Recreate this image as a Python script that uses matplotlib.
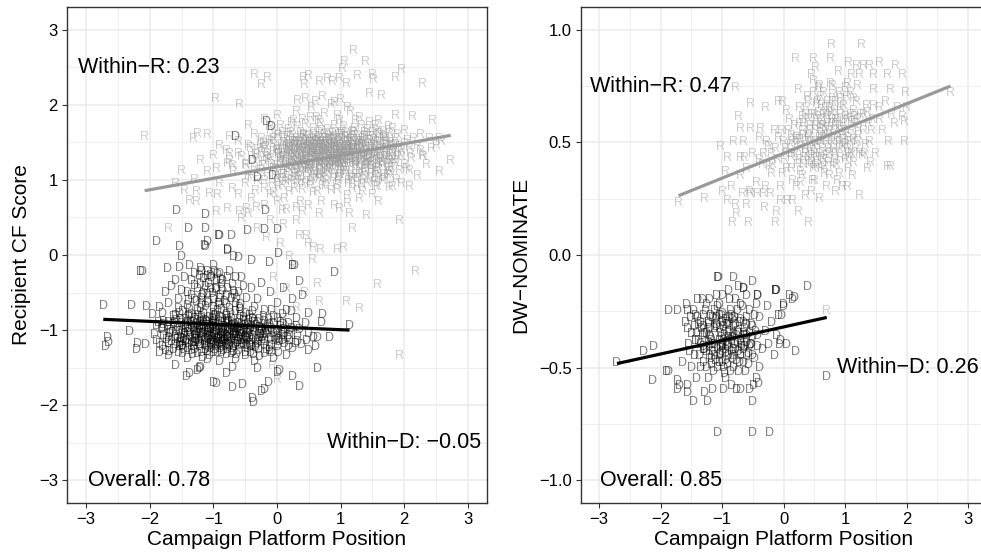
import numpy as np
import matplotlib
matplotlib.use("Agg")
import matplotlib.pyplot as plt
from matplotlib.ticker import MultipleLocator

plt.rcParams['font.family'] = ['Liberation Sans', 'DejaVu Sans']

# ---------------- data ----------------
# left panel: platform position vs recipient CF score
cf_r_pts = [
    (1.2, 2.72), (1.06, 2.57), (1.39, 2.57), (1.03, 2.48), (1.96, 2.46), (1.87, 2.35), (2.28, 2.27),
    (1.5, 2.4), (1.52, 2.33), (1.27, 2.38), (-0.35, 2.4), (-0.15, 2.35), (-0.25, 2.26), (0.42, 2.35),
    (0.5, 2.38), (0.43, 2.26), (0.67, 2.3), (0.79, 2.34), (0.87, 2.3), (0.98, 2.34), (1.09, 2.27),
    (-0.96, 2.07), (-0.59, 2.0), (0.33, 2.05), (0.45, 2.08), (0.6, 2.04), (0.72, 2.1), (0.9, 2.02),
    (1.0, 2.06), (1.45, 2.14), (1.65, 2.12), (1.87, 1.85), (2.13, 1.83), (2.44, 1.78), (-2.08, 1.57),
    (-1.32, 1.55), (-1.25, 1.61), (-1.1, 1.6), (-0.74, 1.57), (2.55, 1.55), (2.73, 1.25), (2.55, 1.1),
    (2.08, 0.9), (1.76, 0.89), (1.92, 0.45), (1.19, 0.35), (1.4, 0.52), (-1.0, 1.32), (-1.26, 0.84),
    (-1.37, 0.72), (-1.26, 0.7), (-1.71, 0.35), (-0.17, 0.22), (0.35, 0.25), (0.46, 0.25), (0.49, 0.15),
    (0.57, 0.09), (0.68, 0.06), (0.95, 0.06), (1.04, 0.09), (0.2, -0.02), (0.24, -0.15), (2.18, -0.23),
    (1.58, -0.4), (0.64, -0.38), (0.43, -0.5), (0.67, -0.63), (1.09, -0.63), (1.29, -0.72), (1.92, -1.34),
    (-0.07, -1.48), (0.0, -1.66), (0.56, -0.06),
    (-0.74, 1.34), (-0.78, 1.21), (-1.06, 0.81), (-0.93, 0.8), (-0.95, 0.57), (-0.78, 0.61), (-0.59, 0.57),
    (-0.48, 0.61), (-0.32, 0.63), (0.09, 0.58), (0.4, 0.57), (0.67, 0.54), (0.98, 0.61), (1.14, 0.54),
    (1.58, 0.91), (1.81, 0.9), (2.58, 1.5), (2.42, 1.41), (2.28, 1.32), (2.03, 1.14), (2.08, 1.12),
    (-0.9, 1.45), (-0.8, 1.38), (-0.75, 1.25), (-0.68, 1.1), (-0.6, 1.5), (-0.55, 1.3), (-0.5, 0.95),
    (-0.48, 1.18), (-0.42, 1.42), (-0.4, 1.05), (-0.35, 1.6), (-0.33, 0.85), (-0.3, 1.28), (-0.26, 1.12),
    (-0.22, 1.48), (-0.2, 0.98), (-0.15, 1.35), (-0.12, 1.7), (-0.1, 0.8), (-0.08, 1.2), (-0.05, 1.55),
    (-0.02, 1.05), (0.0, 1.4), (0.03, 0.9), (0.05, 1.28), (0.08, 1.62), (0.1, 1.15), (0.12, 0.75),
    (0.15, 1.45), (0.18, 1.0), (0.2, 1.32), (0.22, 1.75), (0.25, 1.2), (0.27, 0.88), (0.3, 1.5),
    (0.32, 1.08), (0.35, 1.38), (0.37, 0.7), (0.4, 1.25), (0.42, 1.6), (0.45, 0.95), (0.47, 1.42),
    (0.5, 1.15), (0.52, 1.82), (0.55, 1.3), (0.57, 0.82), (0.6, 1.5), (0.62, 1.05), (0.65, 1.38),
    (0.67, 1.2), (0.7, 1.65), (0.72, 0.92), (0.75, 1.45), (0.77, 1.28), (0.8, 1.1), (0.82, 1.55),
    (0.85, 0.85), (0.87, 1.35), (0.9, 1.72), (0.92, 1.18), (0.95, 1.48), (0.97, 0.98), (1.0, 1.3),
    (1.02, 1.6), (1.05, 1.12), (1.07, 1.42), (1.1, 0.78), (1.12, 1.25), (1.15, 1.55), (1.17, 1.02),
    (1.2, 1.38), (1.22, 1.68), (1.25, 1.2), (1.27, 0.9), (1.3, 1.48), (1.32, 1.3), (1.35, 1.08),
    (1.38, 1.58), (1.4, 1.25), (1.43, 0.95), (1.45, 1.4), (1.48, 1.18), (1.5, 1.62), (1.53, 1.32),
    (1.55, 1.05), (1.58, 1.5), (1.6, 1.22), (1.63, 1.4), (1.66, 0.98), (1.7, 1.55), (1.72, 1.3),
    (1.75, 1.15), (1.8, 1.45), (1.85, 1.25), (1.9, 1.6), (1.95, 1.38), (2.0, 1.2), (2.05, 1.52),
    (2.1, 1.35), (2.2, 1.45), (2.3, 1.3), (2.4, 1.55),
    (0.25, 1.4), (0.35, 1.22), (0.45, 1.52), (0.55, 1.42), (0.6, 1.28), (0.65, 1.55), (0.72, 1.35),
    (0.78, 1.5), (0.85, 1.25), (0.9, 1.42), (0.95, 1.32), (1.0, 1.45), (1.05, 1.35), (1.1, 1.5),
    (1.15, 1.3), (0.3, 1.3), (0.4, 1.4), (0.5, 1.35), (0.62, 1.45), (0.7, 1.25), (0.8, 1.38),
    (0.88, 1.55), (0.93, 1.22), (1.02, 1.4), (1.12, 1.45), (1.2, 1.5), (1.25, 1.35), (0.15, 1.3),
    (0.2, 1.5), (0.58, 1.6), (0.68, 1.12), (0.82, 1.15), (1.08, 1.22), (0.45, 1.3), (0.75, 1.4),
    (0.98, 1.55), (1.18, 1.45), (0.35, 1.5), (0.55, 1.2), (0.85, 1.45), (1.3, 1.4), (0.65, 1.3),
    (0.5, 1.45), (0.78, 1.3), (1.0, 1.2), (0.4, 1.15), (0.9, 1.35), (1.35, 1.5), (0.6, 1.38),
    (0.72, 1.5),
    (-0.6, 0.8), (-0.4, 0.75), (-0.2, 0.65), (0.0, 0.7), (0.15, 0.6), (0.3, 0.62), (0.5, 0.65),
    (0.7, 0.7), (0.9, 0.65), (1.1, 0.68), (1.3, 0.75), (1.5, 0.8), (1.6, 0.7), (-0.9, 0.95),
    (-1.1, 1.1), (-1.2, 1.25), (-0.95, 1.15), (-1.3, 1.0), (-1.5, 1.12), (-1.6, 0.95), (-1.45, 0.85),
    (-0.7, 0.88),
    (0.0, 1.85), (0.3, 1.9), (0.55, 1.95), (0.75, 1.88), (0.95, 1.85), (1.15, 1.9), (1.3, 1.82),
    (-0.2, 1.8), (1.6, 1.78), (0.4, 1.8), (0.65, 1.78), (1.45, 1.75), (0.85, 2.0), (1.1, 1.95),
    (-0.45, 1.72), (1.75, 1.7), (2.0, 1.65), (2.25, 1.6), (2.5, 1.45), (2.35, 1.2), (2.2, 1.05),
    (1.95, 0.95),
    (-0.1, 0.45), (0.1, 0.4), (-0.3, 0.35), (0.3, 0.45), (-0.45, 0.55), (-0.55, 0.48), (0.05, 0.15),
    (-0.05, -0.3), (0.15, -0.45), (0.1, -0.85), (0.3, -0.7), (0.25, -1.0),
]

# the dense Republican core of the left panel
cf_r_core = [
    (-0.1, 1.65), (0.05, 1.72), (0.18, 1.66), (0.32, 1.7), (0.44, 1.73), (0.58, 1.68), (0.68, 1.74),
    (0.8, 1.66), (0.92, 1.62), (1.05, 1.7), (1.18, 1.64), (1.32, 1.72), (1.42, 1.66), (1.55, 1.72),
    (1.68, 1.64), (1.82, 1.68), (0.26, 1.78), (0.62, 1.82), (0.98, 1.78), (1.24, 1.78),
    (-0.25, 1.55), (-0.12, 1.52), (0.02, 1.6), (0.12, 1.54), (0.24, 1.58), (0.38, 1.55), (0.5, 1.58),
    (0.63, 1.52), (0.74, 1.6), (0.86, 1.52), (0.96, 1.6), (1.08, 1.56), (1.22, 1.58), (1.34, 1.54),
    (1.46, 1.52), (1.6, 1.58), (1.72, 1.5), (1.86, 1.55), (2.0, 1.48), (2.15, 1.55),
    (-0.45, 1.45), (-0.3, 1.4), (-0.18, 1.44), (-0.05, 1.46), (0.08, 1.4), (0.18, 1.47), (0.28, 1.44),
    (0.42, 1.47), (0.52, 1.4), (0.66, 1.46), (0.76, 1.42), (0.88, 1.48), (0.98, 1.42), (1.1, 1.4),
    (1.2, 1.44), (1.33, 1.46), (1.44, 1.48), (1.56, 1.42), (1.68, 1.46), (1.78, 1.38), (1.92, 1.44),
    (2.08, 1.42), (2.25, 1.38),
    (-0.6, 1.35), (-0.4, 1.3), (-0.25, 1.36), (-0.1, 1.28), (0.02, 1.34), (0.12, 1.38), (0.22, 1.28),
    (0.32, 1.36), (0.44, 1.32), (0.56, 1.36), (0.66, 1.28), (0.74, 1.36), (0.84, 1.32), (0.94, 1.26),
    (1.04, 1.3), (1.14, 1.36), (1.24, 1.28), (1.36, 1.34), (1.46, 1.28), (1.58, 1.35), (1.7, 1.28),
    (1.82, 1.34), (1.95, 1.3), (2.12, 1.28),
    (-0.5, 1.2), (-0.35, 1.16), (-0.2, 1.24), (-0.06, 1.14), (0.06, 1.22), (0.16, 1.16), (0.28, 1.24),
    (0.38, 1.18), (0.48, 1.24), (0.6, 1.16), (0.72, 1.22), (0.84, 1.18), (0.96, 1.24), (1.06, 1.16),
    (1.18, 1.22), (1.3, 1.14), (1.42, 1.2), (1.54, 1.14), (1.66, 1.22), (1.8, 1.16), (1.92, 1.12),
    (-0.7, 1.18),
    (-0.45, 1.05), (-0.3, 0.98), (-0.15, 1.08), (0.0, 1.0), (0.1, 1.06), (0.22, 0.98), (0.34, 1.04),
    (0.46, 1.1), (0.56, 1.0), (0.66, 1.08), (0.78, 0.98), (0.9, 1.06), (1.0, 1.1), (1.12, 0.98),
    (1.24, 1.06), (1.36, 1.0), (1.48, 1.08), (1.6, 1.02), (1.74, 1.06), (1.88, 1.0),
    (-0.2, 0.88), (-0.05, 0.82), (0.08, 0.92), (0.2, 0.84), (0.4, 0.86), (0.52, 0.92), (0.64, 0.84),
    (0.76, 0.9), (0.95, 0.86), (1.18, 0.88), (1.35, 0.84), (1.55, 0.9),
    (0.03, 1.33), (0.13, 1.23), (0.23, 1.37), (0.27, 1.13), (0.33, 1.27), (0.37, 1.45), (0.43, 1.21),
    (0.47, 1.35), (0.53, 1.27), (0.57, 1.47), (0.63, 1.23), (0.67, 1.41), (0.73, 1.29), (0.77, 1.19),
    (0.83, 1.43), (0.87, 1.27), (0.93, 1.37), (0.97, 1.17), (1.03, 1.33), (1.07, 1.49), (1.13, 1.21),
    (1.17, 1.39), (1.23, 1.31), (1.27, 1.45), (1.33, 1.23), (1.37, 1.39), (1.43, 1.33), (1.47, 1.23),
    (1.53, 1.45), (1.57, 1.31), (1.63, 1.27), (1.67, 1.39), (1.73, 1.21), (1.77, 1.33), (1.83, 1.45),
    (1.87, 1.21),
    (0.07, 1.47), (0.17, 1.57), (0.27, 1.51), (0.37, 1.63), (0.47, 1.57), (0.57, 1.53), (0.67, 1.63),
    (0.77, 1.55), (0.87, 1.61), (0.97, 1.51), (1.07, 1.63), (1.17, 1.53), (1.27, 1.59), (1.37, 1.63),
    (1.47, 1.57), (1.57, 1.65), (1.67, 1.55), (1.77, 1.61),
    (-0.13, 1.27), (-0.23, 1.19), (-0.33, 1.33), (-0.03, 1.13), (0.07, 1.07), (0.17, 1.09),
    (0.27, 1.03), (0.37, 1.11), (0.47, 1.03), (0.57, 1.09), (0.67, 1.01), (0.77, 1.07), (0.87, 1.13),
    (0.97, 1.03), (1.07, 1.07), (1.17, 1.11), (1.27, 1.01), (1.37, 1.13), (1.47, 1.01), (1.57, 1.11),
    (1.67, 1.07), (1.77, 1.11),
    (0.33, 0.95), (0.53, 0.97), (0.73, 1.03), (0.93, 0.93), (1.13, 0.95), (1.33, 0.93), (1.53, 0.97),
    (0.13, 0.97), (-0.07, 0.95),
    (0.43, 1.41), (0.63, 1.33), (0.83, 1.37), (1.03, 1.25), (1.23, 1.41), (0.53, 1.17), (0.73, 1.47),
    (0.93, 1.29), (1.13, 1.43), (1.33, 1.35), (0.23, 1.29), (0.63, 1.37), (0.83, 1.21), (1.03, 1.53),
    (0.43, 1.49), (0.93, 1.45), (1.23, 1.19), (0.73, 1.15), (1.53, 1.37), (0.33, 1.19),
    (-0.19, 1.41), (-0.09, 1.51), (0.01, 1.19), (0.11, 1.31), (0.21, 1.43), (0.31, 1.17), (0.41, 1.29),
    (0.51, 1.51), (0.61, 1.19), (0.71, 1.41), (0.81, 1.29), (0.91, 1.53), (1.01, 1.19), (1.11, 1.31),
    (1.21, 1.47), (1.31, 1.21), (1.41, 1.39), (1.51, 1.29), (1.61, 1.49), (1.71, 1.41), (1.81, 1.27),
    (1.91, 1.37),
    (-0.01, 1.39), (0.09, 1.29), (0.19, 1.21), (0.29, 1.39), (0.39, 1.33), (0.49, 1.19), (0.59, 1.41),
    (0.69, 1.33), (0.79, 1.45), (0.89, 1.21), (0.99, 1.35), (1.09, 1.29), (1.19, 1.41), (1.29, 1.33),
    (1.39, 1.19), (1.49, 1.43), (1.59, 1.21), (1.69, 1.31), (1.79, 1.49), (1.89, 1.31),
    (0.01, 1.59), (0.21, 1.63), (0.41, 1.59), (0.61, 1.57), (0.81, 1.59), (1.01, 1.63), (1.21, 1.63),
    (1.41, 1.57), (1.61, 1.61), (0.11, 1.49), (0.31, 1.55), (0.51, 1.49), (0.71, 1.55), (0.91, 1.47),
    (1.11, 1.57), (1.31, 1.51), (1.51, 1.53), (1.71, 1.57),
    (0.09, 1.01), (0.29, 1.07), (0.49, 1.13), (0.69, 1.05), (0.89, 1.01), (1.09, 1.11), (1.29, 1.07),
    (1.49, 1.13), (1.69, 1.01), (0.19, 1.13), (0.39, 0.99), (0.59, 1.07), (0.79, 1.13), (0.99, 1.07),
    (1.19, 1.01), (1.39, 1.09), (1.59, 1.15), (1.79, 1.05),
    (0.39, 1.37), (0.59, 1.31), (0.79, 1.23), (0.99, 1.39), (1.19, 1.27), (0.49, 1.43), (0.69, 1.19),
    (0.89, 1.39), (1.09, 1.45), (1.29, 1.27), (0.29, 1.47), (0.99, 1.23), (0.69, 1.49), (1.39, 1.45),
    (0.19, 1.39), (0.89, 1.31),
    (0.16, 1.35), (0.26, 1.25), (0.36, 1.41), (0.46, 1.27), (0.56, 1.39), (0.66, 1.21), (0.76, 1.33),
    (0.86, 1.41), (0.96, 1.27), (1.06, 1.43), (1.16, 1.25), (1.26, 1.39), (1.36, 1.29), (1.46, 1.35),
    (1.56, 1.25),
    (0.14, 1.19), (0.24, 1.51), (0.34, 1.33), (0.44, 1.15), (0.54, 1.49), (0.64, 1.41), (0.74, 1.23),
    (0.84, 1.53), (0.94, 1.39), (1.04, 1.21), (1.14, 1.51), (1.24, 1.23), (1.34, 1.43), (1.44, 1.21),
    (1.54, 1.51),
    (0.18, 1.43), (0.28, 1.33), (0.38, 1.25), (0.48, 1.45), (0.58, 1.35), (0.68, 1.47), (0.78, 1.37),
    (0.88, 1.29), (0.98, 1.47), (1.08, 1.37), (1.18, 1.33), (1.28, 1.51), (1.38, 1.31), (1.48, 1.45),
    (0.22, 1.17), (0.42, 1.23), (0.62, 1.29), (0.82, 1.27), (1.02, 1.37), (1.22, 1.35), (1.42, 1.27),
    (0.32, 1.45), (0.52, 1.33), (0.72, 1.39), (0.92, 1.23), (1.12, 1.39), (1.32, 1.47), (0.62, 1.51),
    (0.82, 1.47), (1.02, 1.29),
    (1.62, 1.35), (1.72, 1.45), (1.82, 1.39), (1.66, 1.19), (1.76, 1.25), (1.86, 1.47), (-0.06, 1.37),
    (-0.16, 1.31), (0.06, 1.25), (-0.26, 1.47),
]

cf_d_pts = [
    (-0.17, 1.77), (-0.09, 1.7), (-0.65, 1.57), (-0.38, 1.25), (-0.3, 1.02), (-0.07, 1.05), (-0.18, 0.59),
    (-1.58, 0.59), (-1.12, 0.53), (-1.39, 0.35), (-1.12, 0.35), (-0.92, 0.25), (-0.71, 0.25),
    (-0.46, 0.32), (-0.2, 0.33), (0.0, 0.33), (-1.89, 0.17), (-1.09, 0.17), (-1.12, 0.11), (-1.54, 0.1),
    (-1.5, -0.02), (-0.77, 0.05), (0.02, 0.01), (-2.12, -0.23), (-2.73, -0.68), (-2.28, -0.68),
    (-2.05, -0.69), (-2.67, -1.1), (-2.65, -1.17), (-2.69, -1.23), (-2.31, -1.02), (-2.19, -1.19),
    (-2.06, -1.2), (-2.2, -1.27), (0.72, -0.8), (0.7, -0.9), (0.82, -1.11), (0.64, -1.11), (0.9, -0.24),
    (0.64, -1.52), (0.24, -1.62), (0.35, -1.76), (0.04, -1.55), (0.0, -1.57), (-0.2, -1.79),
    (-0.24, -1.82), (-0.14, -1.7), (-0.38, -1.92), (-0.37, -1.97), (-0.54, -1.73), (-0.7, -1.77),
    (-0.95, -1.71), (-1.0, -1.7), (-0.79, -1.59), (-1.37, -1.59), (-1.21, -1.52), (-1.42, -1.62),
    (-1.25, -1.55), (1.14, -0.95), (0.27, -0.15), (0.35, -0.36),
    (-1.14, 0.12), (-0.9, 0.25), (-0.78, 0.06), (-0.68, -0.03), (-0.6, -0.04), (-0.4, -0.08),
    (-0.12, -0.11), (0.25, -0.15), (-1.72, -0.18), (-1.54, -0.17), (-1.37, -0.15), (-2.15, -0.23),
    (-1.6, -0.35), (-1.45, -0.3), (-1.3, -0.25), (-1.2, -0.4), (-1.05, -0.28), (-0.95, -0.45),
    (-0.85, -0.35), (-0.7, -0.4), (-0.55, -0.3), (-0.4, -0.45), (-0.25, -0.38), (-0.1, -0.5),
    (0.1, -0.45), (0.25, -0.6), (-1.75, -0.5), (-1.5, -0.48), (-1.35, -0.55), (-1.15, -0.52),
    (-0.8, -0.55), (-0.6, -0.5), (-0.3, -0.6), (0.0, -0.65), (0.4, -0.55),
    (-1.85, -0.7), (-1.7, -0.65), (-1.55, -0.72), (-1.4, -0.68), (-1.25, -0.75), (-1.1, -0.62),
    (-1.0, -0.78), (-0.9, -0.68), (-0.75, -0.72), (-0.65, -0.65), (-0.5, -0.78), (-0.35, -0.7),
    (-0.2, -0.75), (-0.05, -0.82), (0.15, -0.75), (0.3, -0.85), (0.5, -0.78), (-1.95, -0.8),
    (-1.3, -0.85), (-0.85, -0.85), (-0.45, -0.88), (0.05, -0.9),
    (-1.9, -0.95), (-1.8, -1.0), (-1.7, -0.9), (-1.6, -1.02), (-1.5, -0.92), (-1.45, -1.05),
    (-1.35, -0.95), (-1.25, -1.0), (-1.2, -0.9), (-1.15, -1.05), (-1.1, -0.95), (-1.05, -1.0),
    (-1.0, -0.9), (-0.95, -1.02), (-0.9, -0.95), (-0.85, -1.05), (-0.8, -0.92), (-0.75, -1.0),
    (-0.7, -0.95), (-0.65, -1.05), (-0.6, -0.92), (-0.55, -1.0), (-0.5, -0.95), (-0.45, -1.05),
    (-0.35, -0.98), (-0.25, -1.02), (-0.15, -0.95), (-0.05, -1.05), (0.1, -1.0), (0.2, -1.08),
    (0.35, -1.0), (0.5, -1.05),
    (-1.9, -1.15), (-1.8, -1.22), (-1.7, -1.1), (-1.6, -1.2), (-1.5, -1.12), (-1.4, -1.25),
    (-1.35, -1.15), (-1.28, -1.08), (-1.2, -1.2), (-1.12, -1.12), (-1.05, -1.25), (-1.0, -1.15),
    (-0.92, -1.1), (-0.88, -1.22), (-0.82, -1.15), (-0.75, -1.1), (-0.7, -1.25), (-0.62, -1.15),
    (-0.55, -1.2), (-0.48, -1.12), (-0.4, -1.22), (-0.3, -1.15), (-0.2, -1.2), (-0.1, -1.12),
    (0.0, -1.22), (0.12, -1.18), (0.25, -1.25), (0.38, -1.2), (0.5, -1.28), (0.6, -1.22),
    (-1.85, -1.3), (-1.7, -1.35), (-1.55, -1.3), (-1.4, -1.38), (-1.25, -1.32), (-1.1, -1.4),
    (-1.0, -1.3), (-0.9, -1.42), (-0.8, -1.33), (-0.65, -1.4), (-0.5, -1.35), (-0.35, -1.42),
    (-0.2, -1.32), (-0.05, -1.38), (0.15, -1.35), (-1.6, -1.48), (-1.2, -1.5), (-0.7, -1.5),
    (-0.3, -1.52),
    (-1.1, -1.08), (-0.95, -1.12), (-0.85, -0.98), (-1.2, -1.05), (-0.78, -1.08), (-1.02, -0.85),
    (-0.68, -1.02), (-1.3, -1.12), (-0.9, -0.82), (-1.15, -0.78), (-0.6, -1.1), (-1.4, -0.98),
    (-0.72, -0.85), (-1.05, -1.18), (-0.88, -1.3), (-1.25, -0.88), (-0.5, -1.1), (-1.0, -1.05),
    (-0.8, -1.2), (-1.15, -0.95),
    (-1.2, -0.18), (-1.1, -0.22), (-1.0, -0.15), (-0.9, -0.25), (-1.15, -0.32), (-0.95, -0.35),
    (-1.05, -0.45), (-0.85, -0.48), (-1.25, -0.45), (-0.75, -0.22), (-0.65, -0.3), (-1.3, -0.6),
    (-1.0, -0.6), (-0.9, -0.58),
]

# the dense Democratic core of the left panel
cf_d_core = [
    (-1.8, -0.78), (-1.62, -0.82), (-1.48, -0.76), (-1.34, -0.8), (-1.2, -0.72), (-1.06, -0.84),
    (-0.94, -0.74), (-0.8, -0.8), (-0.66, -0.76), (-0.52, -0.84), (-0.38, -0.76), (-0.22, -0.82),
    (-0.08, -0.74), (0.08, -0.8), (0.22, -0.76),
    (-1.86, -0.9), (-1.72, -0.96), (-1.58, -0.88), (-1.44, -0.94), (-1.32, -0.9), (-1.22, -0.96),
    (-1.12, -0.88), (-1.02, -0.96), (-0.92, -0.88), (-0.82, -0.96), (-0.72, -0.9), (-0.62, -0.98),
    (-0.52, -0.88), (-0.42, -0.94), (-0.3, -0.9), (-0.18, -0.98), (-0.06, -0.92), (0.06, -0.96),
    (0.18, -0.92), (0.3, -0.96), (0.44, -0.92),
    (-1.92, -1.06), (-1.78, -1.08), (-1.64, -1.04), (-1.52, -1.1), (-1.4, -1.04), (-1.3, -1.02),
    (-1.18, -1.1), (-1.08, -1.02), (-0.98, -1.08), (-0.88, -1.02), (-0.78, -1.1), (-0.68, -1.06),
    (-0.58, -1.04), (-0.48, -1.0), (-0.38, -1.08), (-0.28, -1.1), (-0.16, -1.06), (-0.04, -1.1),
    (0.08, -1.08), (0.2, -1.14), (0.32, -1.08), (0.46, -1.14), (0.58, -1.1),
    (-1.84, -1.18), (-1.66, -1.16), (-1.54, -1.22), (-1.44, -1.16), (-1.32, -1.22), (-1.24, -1.14),
    (-1.14, -1.2), (-1.04, -1.14), (-0.94, -1.2), (-0.86, -1.14), (-0.76, -1.2), (-0.66, -1.2),
    (-0.58, -1.14), (-0.44, -1.18), (-0.34, -1.24), (-0.24, -1.16), (-0.12, -1.24), (0.04, -1.16),
    (0.18, -1.22), (0.32, -1.16),
    (-1.76, -1.28), (-1.62, -1.26), (-1.48, -1.32), (-1.34, -1.28), (-1.18, -1.3), (-1.06, -1.34),
    (-0.96, -1.26), (-0.84, -1.28), (-0.72, -1.32), (-0.6, -1.28), (-0.42, -1.3), (-0.28, -1.36),
    (-0.12, -1.28), (0.02, -1.3),
    (-1.35, -0.35), (-1.22, -0.28), (-1.08, -0.38), (-0.98, -0.22), (-0.88, -0.4), (-0.78, -0.3),
    (-1.4, -0.5), (-1.18, -0.58), (-1.02, -0.52), (-0.92, -0.65), (-0.72, -0.58), (-0.58, -0.66),
    (-0.48, -0.58), (-1.55, -0.6), (-1.65, -0.42),
    (-1.63, -0.93), (-1.53, -1.03), (-1.43, -0.87), (-1.37, -1.09), (-1.27, -0.93), (-1.23, -1.17),
    (-1.17, -0.99), (-1.13, -1.27), (-1.07, -0.91), (-1.03, -1.09), (-0.97, -0.97), (-0.93, -1.17),
    (-0.87, -0.91), (-0.83, -1.07), (-0.77, -0.97), (-0.73, -1.17), (-0.67, -0.93), (-0.63, -1.09),
    (-0.57, -0.97), (-0.53, -1.19), (-0.47, -0.93), (-0.43, -1.11), (-0.37, -1.01), (-0.33, -1.21),
    (-0.27, -0.97), (-0.23, -1.11), (-0.13, -1.01), (-0.03, -1.15), (0.07, -1.03), (0.17, -1.11),
    (-1.57, -1.13), (-1.47, -1.27), (-1.33, -1.33), (-1.17, -1.37), (-1.03, -1.21), (-0.93, -1.31),
    (-0.77, -1.27), (-0.63, -1.33), (-0.47, -1.25), (-0.37, -1.33), (-0.17, -1.27),
    (-1.53, -0.79), (-1.37, -0.73), (-1.23, -0.81), (-1.13, -0.69), (-0.97, -0.81), (-0.87, -0.73),
    (-0.73, -0.79), (-0.57, -0.73), (-0.43, -0.81), (-0.27, -0.87), (-0.13, -0.87),
    (-1.17, -0.55), (-1.07, -0.65), (-0.97, -0.47), (-0.83, -0.63), (-0.67, -0.53), (-0.53, -0.43),
    (-1.27, -0.63), (-0.77, -0.45), (-1.13, -0.43), (-0.93, -0.27), (-1.03, -0.31), (-0.63, -0.59),
    (-1.07, -1.13), (-0.97, -1.05), (-0.87, -1.19), (-0.77, -1.03), (-0.67, -1.13), (-1.17, -1.07),
    (-0.57, -1.07), (-1.27, -1.05), (-0.87, -0.99), (-0.97, -1.23), (-0.77, -1.15), (-1.07, -0.97),
    (-0.67, -0.99), (-1.37, -1.01), (-0.47, -1.05), (-1.47, -1.13),
    (-1.81, -0.99), (-1.71, -1.19), (-1.61, -0.91), (-1.51, -1.19), (-1.41, -0.91), (-1.31, -1.17),
    (-1.21, -0.99), (-1.11, -1.21), (-1.01, -0.93), (-0.91, -1.19), (-0.81, -1.01), (-0.71, -1.13),
    (-0.61, -0.99), (-0.51, -1.13), (-0.41, -0.99), (-0.31, -1.19), (-0.21, -1.07), (-0.11, -0.93),
    (-0.01, -1.01), (0.09, -1.15), (0.19, -1.01), (0.29, -1.19),
    (-1.79, -0.89), (-1.69, -1.05), (-1.59, -1.11), (-1.49, -1.01), (-1.39, -1.19), (-1.29, -0.99),
    (-1.19, -1.13), (-1.09, -1.05), (-0.99, -1.19), (-0.89, -1.07), (-0.79, -0.89), (-0.69, -1.09),
    (-0.59, -1.21), (-0.49, -1.09), (-0.39, -1.15), (-0.29, -1.03), (-0.19, -1.13), (-0.09, -1.21),
    (0.01, -1.09), (0.11, -0.93),
    (-1.69, -1.29), (-1.49, -1.23), (-1.29, -1.27), (-1.09, -1.29), (-0.89, -1.25), (-0.69, -1.29),
    (-0.49, -1.31), (-0.29, -1.27), (-0.09, -1.31),
    (-1.59, -0.81), (-1.39, -0.83), (-1.19, -0.85), (-0.99, -0.87), (-0.79, -0.83), (-0.59, -0.87),
    (-0.39, -0.85), (-0.19, -0.89), (0.01, -0.85),
    (-1.19, -0.67), (-0.99, -0.71), (-0.79, -0.67), (-0.59, -0.71), (-1.39, -0.61), (-1.09, -0.53),
    (-0.89, -0.55), (-0.69, -0.49), (-1.29, -0.41), (-1.09, -0.29), (-0.89, -0.33), (-1.19, -0.23),
    (-1.09, -1.01), (-0.99, -0.99), (-0.89, -1.13), (-0.79, -1.09), (-1.19, -0.95), (-0.69, -0.97),
    (-1.29, -1.09), (-0.59, -1.03), (-1.01, -1.11), (-0.81, -1.21), (-1.11, -0.89), (-0.71, -1.01),
    (-1.56, -0.97), (-1.46, -1.07), (-1.36, -0.89), (-1.26, -1.13), (-1.16, -0.91), (-1.06, -1.09),
    (-0.96, -0.93), (-0.86, -1.11), (-0.76, -0.91), (-0.66, -1.07), (-0.56, -0.93), (-0.46, -1.13),
    (-0.36, -0.91), (-0.26, -1.07),
    (-1.54, -1.17), (-1.44, -0.99), (-1.34, -1.21), (-1.24, -1.03), (-1.14, -1.15), (-1.04, -0.99),
    (-0.94, -1.13), (-0.84, -1.03), (-0.74, -1.21), (-0.64, -1.03), (-0.54, -1.15), (-0.44, -1.01),
    (-0.34, -1.13), (-0.24, -0.99),
    (-1.52, -0.87), (-1.42, -1.13), (-1.32, -0.97), (-1.22, -1.23), (-1.12, -1.01), (-1.02, -1.17),
    (-0.92, -1.01), (-0.82, -1.13), (-0.72, -0.95), (-0.62, -1.17), (-0.52, -1.01), (-0.42, -1.21),
    (-0.32, -0.95),
    (-1.48, -1.21), (-1.28, -1.17), (-1.08, -1.23), (-0.88, -1.17), (-0.68, -1.23), (-0.48, -1.21),
    (-1.38, -0.81), (-1.18, -0.83), (-0.98, -0.83), (-0.78, -0.87), (-0.58, -0.81), (-0.38, -0.87),
    (-1.68, -1.01), (-1.74, -1.13), (-1.78, -0.93), (-0.18, -1.05), (-0.08, -0.99), (0.02, -1.13),
    (0.12, -1.05), (0.22, -0.99),
]

# right panel: platform position vs DW-NOMINATE
dw_r_pts = [
    (0.77, 0.93), (1.26, 0.93), (0.19, 0.87), (0.48, 0.87), (0.76, 0.87), (1.05, 0.85), (1.19, 0.84),
    (1.3, 0.84), (1.4, 0.84), (1.55, 0.85), (1.81, 0.84), (0.51, 0.83), (0.46, 0.8), (0.89, 0.81),
    (1.11, 0.8), (1.24, 0.8), (1.46, 0.8), (1.68, 0.8), (1.93, 0.8), (-0.79, 0.74), (2.71, 0.72),
    (-0.54, 0.67), (-0.3, 0.65), (-0.74, 0.61), (-1.03, 0.48), (-0.92, 0.43), (-0.71, 0.43),
    (-0.63, 0.43), (-1.71, 0.23), (-1.28, 0.25), (-0.92, 0.24), (-0.79, 0.22), (-0.76, 0.18),
    (-0.84, 0.14), (-0.58, 0.14), (-0.61, 0.22), (-0.32, 0.21), (-0.11, 0.19), (-0.14, 0.14),
    (0.24, 0.19), (0.4, 0.14), (1.68, 0.39), (1.73, 0.39), (1.37, 0.38), (1.41, 0.41), (1.97, 0.5),
    (1.97, 0.59), (1.93, 0.61), (2.0, 0.65), (0.7, -0.25),
    (0.24, 0.73), (0.48, 0.72), (0.64, 0.72), (0.8, 0.71), (1.08, 0.72), (1.46, 0.73), (1.73, 0.73),
    (1.98, 0.72), (0.48, 0.77), (0.59, 0.75), (0.8, 0.75), (1.04, 0.76), (1.2, 0.75), (-0.09, 0.68),
    (-0.02, 0.68), (0.05, 0.64), (-0.71, 0.56), (-0.54, 0.56), (-0.38, 0.56), (-0.82, 0.5),
    (-0.66, 0.5), (-0.67, 0.27), (-0.54, 0.27), (-0.43, 0.27), (-0.33, 0.27), (-0.22, 0.27),
    (-0.06, 0.24), (0.06, 0.24), (0.15, 0.24), (0.35, 0.26), (0.59, 0.25), (0.84, 0.28), (1.03, 0.3),
    (1.23, 0.26), (1.13, 0.41),
    (-0.6, 0.38), (-0.5, 0.45), (-0.45, 0.32), (-0.4, 0.52), (-0.35, 0.4), (-0.3, 0.3), (-0.25, 0.48),
    (-0.2, 0.36), (-0.15, 0.55), (-0.1, 0.42), (-0.05, 0.3), (0.0, 0.5), (0.05, 0.38), (0.1, 0.6),
    (0.12, 0.45), (0.15, 0.33), (0.2, 0.52), (0.22, 0.4), (0.25, 0.65), (0.28, 0.48), (0.3, 0.35),
    (0.33, 0.58), (0.35, 0.45), (0.38, 0.7), (0.4, 0.52), (0.42, 0.4), (0.45, 0.62), (0.48, 0.48),
    (0.5, 0.33), (0.52, 0.55), (0.55, 0.68), (0.58, 0.45), (0.6, 0.6), (0.62, 0.38), (0.65, 0.52),
    (0.68, 0.65), (0.7, 0.44), (0.72, 0.58), (0.75, 0.35), (0.78, 0.5), (0.8, 0.68), (0.82, 0.42),
    (0.85, 0.6), (0.88, 0.52), (0.9, 0.36), (0.92, 0.65), (0.95, 0.48), (0.98, 0.58), (1.0, 0.42),
    (1.02, 0.7), (1.05, 0.52), (1.08, 0.62), (1.1, 0.45), (1.12, 0.35), (1.15, 0.58), (1.18, 0.68),
    (1.2, 0.5), (1.25, 0.62), (1.28, 0.44), (1.3, 0.55), (1.35, 0.66), (1.4, 0.5), (1.45, 0.6),
    (1.5, 0.45), (1.55, 0.65), (1.6, 0.55), (1.65, 0.68), (1.7, 0.5), (1.75, 0.62), (1.8, 0.58),
    (1.85, 0.65), (-0.7, 0.35), (-0.55, 0.28), (-0.85, 0.3), (-1.0, 0.28), (-0.95, 0.37), (0.2, 0.3),
    (0.45, 0.28), (0.7, 0.3), (0.95, 0.3), (0.3, 0.55), (0.5, 0.45), (0.6, 0.5), (0.4, 0.6),
    (0.55, 0.4), (0.75, 0.55), (0.85, 0.45), (0.35, 0.5), (0.65, 0.42), (0.15, 0.5), (1.0, 0.55),
    (0.8, 0.6), (0.5, 0.62), (0.25, 0.42), (0.9, 0.5), (0.7, 0.5), (1.2, 0.6), (1.1, 0.55),
    (0.05, 0.45), (-0.2, 0.45), (0.6, 0.7), (0.9, 0.72), (0.4, 0.68),
    (-0.4, 0.42), (-0.28, 0.5), (-0.18, 0.4), (-0.08, 0.52), (0.02, 0.42), (0.08, 0.55), (0.18, 0.45),
    (0.26, 0.58), (0.32, 0.4), (0.42, 0.55), (0.46, 0.44), (0.54, 0.6), (0.58, 0.52), (0.64, 0.62),
    (0.68, 0.55), (0.74, 0.65), (0.78, 0.58), (0.84, 0.68), (0.88, 0.6), (0.94, 0.55), (0.98, 0.66),
    (1.04, 0.6), (1.08, 0.5), (1.14, 0.64), (1.22, 0.56), (1.3, 0.62), (1.38, 0.58), (1.46, 0.66),
    (1.55, 0.6), (0.62, 0.66), (0.72, 0.68), (0.82, 0.64), (0.52, 0.5), (0.36, 0.62), (0.12, 0.38),
    (-0.02, 0.36), (0.28, 0.32), (0.48, 0.38), (0.66, 0.36), (0.86, 0.4), (1.06, 0.38), (0.56, 0.74),
    (0.76, 0.76), (1.0, 0.74), (0.7, 0.62), (0.92, 0.62), (0.44, 0.5), (0.6, 0.56),
    (0.03, 0.47), (0.13, 0.53), (0.23, 0.47), (0.33, 0.43), (0.43, 0.57), (0.53, 0.43), (0.63, 0.47),
    (0.73, 0.41), (0.83, 0.55), (0.93, 0.43), (1.03, 0.47), (1.13, 0.51), (1.23, 0.45), (1.33, 0.49),
    (1.43, 0.55), (0.17, 0.57), (0.37, 0.65), (0.57, 0.63), (0.77, 0.63), (0.97, 0.51), (1.17, 0.47),
    (1.37, 0.63), (0.27, 0.37), (0.47, 0.33), (0.67, 0.39), (0.87, 0.33), (1.07, 0.43), (-0.13, 0.47),
    (-0.23, 0.39), (-0.33, 0.45), (0.63, 0.57), (0.83, 0.51), (0.53, 0.67), (0.73, 0.47), (0.43, 0.47),
    (0.93, 0.69), (1.13, 0.69), (0.33, 0.53), (0.13, 0.43), (-0.03, 0.55),
    (0.21, 0.51), (0.41, 0.43), (0.61, 0.53), (0.81, 0.47), (1.01, 0.61), (1.21, 0.53), (0.31, 0.61),
    (0.51, 0.57), (0.71, 0.61), (0.91, 0.57), (1.11, 0.59), (1.31, 0.45), (0.11, 0.49), (0.61, 0.43),
    (0.81, 0.39), (0.41, 0.53), (0.71, 0.53), (1.01, 0.49), (0.51, 0.39), (0.91, 0.47),
    (0.35, 0.47), (0.55, 0.49), (0.75, 0.45), (0.95, 0.53), (0.45, 0.41), (0.65, 0.57), (0.85, 0.57),
    (1.05, 0.45), (0.25, 0.51), (1.15, 0.61),
]

dw_d_pts = [
    (-1.08, -0.1), (-1.06, -0.1), (-0.82, -0.1), (0.38, -0.14), (-0.5, -0.12), (-0.65, -0.15),
    (-0.43, -0.18), (-0.14, -0.16), (-0.11, -0.16), (-1.88, -0.25), (-1.73, -0.25), (-1.57, -0.25),
    (-1.47, -0.25), (-0.09, -0.27), (-0.03, -0.27), (0.19, -0.43), (-0.07, -0.4), (-0.12, -0.36),
    (-0.25, -0.4), (-2.28, -0.43), (-2.12, -0.41), (-2.71, -0.48), (-2.13, -0.56), (0.7, -0.54),
    (-1.9, -0.52), (-1.88, -0.52), (-1.72, -0.56), (-1.7, -0.58), (-1.57, -0.58), (-1.72, -0.6),
    (-1.57, -0.61), (-1.47, -0.65), (-1.24, -0.65), (-0.51, -0.65), (-1.08, -0.79), (-0.51, -0.79),
    (-0.23, -0.79), (-1.28, -0.61), (-0.98, -0.6), (-0.76, -0.6), (-0.7, -0.6), (-0.55, -0.6),
    (-0.49, -0.58), (-0.41, -0.57), (-0.45, -0.55), (-0.4, -0.5), (0.14, -0.2), (0.18, -0.19),
    (-0.27, -0.23), (-0.01, -0.23), (-0.14, -0.16), (-0.66, -0.15), (-0.43, -0.18),
    (-1.6, -0.3), (-1.55, -0.4), (-1.5, -0.35), (-1.45, -0.45), (-1.4, -0.28), (-1.38, -0.38),
    (-1.35, -0.5), (-1.3, -0.32), (-1.28, -0.42), (-1.25, -0.22), (-1.22, -0.55), (-1.2, -0.36),
    (-1.18, -0.46), (-1.15, -0.28), (-1.12, -0.4), (-1.1, -0.18), (-1.08, -0.5), (-1.05, -0.33),
    (-1.02, -0.44), (-1.0, -0.26), (-0.98, -0.38), (-0.95, -0.55), (-0.92, -0.3), (-0.9, -0.45),
    (-0.88, -0.2), (-0.85, -0.38), (-0.82, -0.5), (-0.8, -0.28), (-0.78, -0.42), (-0.75, -0.34),
    (-0.72, -0.48), (-0.7, -0.22), (-0.68, -0.4), (-0.65, -0.3), (-0.62, -0.52), (-0.6, -0.36),
    (-0.58, -0.44), (-0.55, -0.25), (-0.52, -0.4), (-0.5, -0.32), (-0.48, -0.46), (-0.45, -0.22),
    (-0.42, -0.36), (-0.4, -0.28), (-0.35, -0.42), (-0.3, -0.34), (-1.65, -0.48), (-1.58, -0.22),
    (-1.42, -0.55), (-1.32, -0.2), (-1.15, -0.6), (-1.05, -0.22), (-0.95, -0.42), (-0.85, -0.58),
    (-0.78, -0.2), (-1.25, -0.35), (-1.1, -0.32), (-1.0, -0.4), (-0.9, -0.35), (-0.8, -0.4),
    (-1.2, -0.45), (-1.05, -0.48), (-0.7, -0.38), (-1.3, -0.48), (-0.6, -0.45), (-1.45, -0.32),
    (-1.0, -0.3), (-0.88, -0.28), (-1.12, -0.25), (-0.98, -0.5), (-0.65, -0.48), (-1.35, -0.4),
    (-0.55, -0.35), (-0.75, -0.25), (-1.18, -0.38), (-0.92, -0.4), (-0.82, -0.32), (0.0, -0.22),
    (0.1, -0.18), (-0.2, -0.3), (-0.15, -0.45), (-0.05, -0.38), (0.05, -0.4),
    (-1.52, -0.28), (-1.44, -0.38), (-1.36, -0.3), (-1.3, -0.42), (-1.22, -0.3), (-1.16, -0.4),
    (-1.1, -0.28), (-1.04, -0.38), (-0.98, -0.32), (-0.94, -0.44), (-0.88, -0.34), (-0.84, -0.46),
    (-0.76, -0.36), (-0.72, -0.3), (-0.66, -0.42), (-0.6, -0.28), (-0.54, -0.4), (-0.46, -0.34),
    (-1.26, -0.5), (-1.14, -0.52), (-1.0, -0.48), (-0.86, -0.52), (-0.74, -0.52), (-1.4, -0.2),
    (-1.2, -0.2), (-1.0, -0.18), (-0.9, -0.16), (-0.74, -0.14), (-0.6, -0.18), (-1.08, -0.42),
    (-0.96, -0.36), (-0.82, -0.42), (-1.32, -0.36), (-0.64, -0.36), (-0.5, -0.45), (-1.5, -0.5),
    (-1.43, -0.27), (-1.33, -0.33), (-1.23, -0.39), (-1.13, -0.33), (-1.03, -0.41), (-0.93, -0.31),
    (-0.83, -0.37), (-0.73, -0.43), (-0.63, -0.33), (-0.53, -0.31), (-1.37, -0.45), (-1.17, -0.49),
    (-0.97, -0.53), (-0.77, -0.47), (-0.57, -0.49), (-1.27, -0.25), (-1.07, -0.23), (-0.87, -0.25),
    (-0.67, -0.23), (-0.47, -0.27), (-1.53, -0.43), (-1.03, -0.35), (-0.93, -0.39), (-0.83, -0.29),
    (-1.13, -0.45), (-0.73, -0.35), (-1.23, -0.31), (-0.63, -0.41), (-1.57, -0.33), (-0.43, -0.41),
    (-1.41, -0.35), (-1.21, -0.41), (-1.01, -0.37), (-0.81, -0.35), (-0.61, -0.39), (-1.31, -0.27),
    (-1.11, -0.29), (-0.91, -0.41), (-0.71, -0.29), (-0.51, -0.37), (-1.11, -0.47), (-0.91, -0.49),
    (-0.71, -0.45), (-1.21, -0.33), (-1.01, -0.27), (-0.81, -0.45), (-1.31, -0.41), (-0.61, -0.31),
    (-0.99, -0.43), (-0.89, -0.31),
    (-1.19, -0.37), (-1.09, -0.31), (-0.99, -0.41), (-0.89, -0.37), (-0.79, -0.31), (-0.69, -0.41),
    (-1.29, -0.35), (-1.15, -0.43), (-0.95, -0.29), (-0.85, -0.43), (-0.75, -0.39), (-1.05, -0.45),
    (-0.65, -0.35), (-1.25, -0.43), (-0.55, -0.41), (-1.39, -0.31), (-1.05, -0.27), (-0.85, -0.27),
    (-1.19, -0.27), (-0.95, -0.47),
]

# fitted lines (intercept, slope)
cf_r_fit = (1.174, 0.153)
cf_d_fit = (-0.957, -0.037)
dw_r_fit = (0.451, 0.110)
dw_d_fit = (-0.319, 0.060)

cf_labels = ["Within\u2212R: 0.23", "Within\u2212D: \u22120.05", "Overall: 0.78"]
dw_labels = ["Within\u2212R: 0.47", "Within\u2212D: 0.26", "Overall: 0.85"]

x_ticks = [-3, -2, -1, 0, 1, 2, 3]
cf_ticks = [-3, -2, -1, 0, 1, 2, 3]
dw_ticks = [-1.0, -0.5, 0.0, 0.5, 1.0]

R_COL = '#999999'
D_COL = '#000000'


def minus(s):
    return s.replace('-', '\u2212')


def draw_panel(ax, r_pts, d_pts, r_fit, d_fit, ylim, yticks, yfmt, ylabel, minor_y):
    ax.set_xlim(-3.3, 3.3)
    ax.set_ylim(*ylim)

    for x, y in r_pts:
        ax.text(x, y, 'R', color=R_COL, alpha=0.5, fontsize=9, ha='center', va='center', zorder=2)
    for x, y in d_pts:
        ax.text(x, y, 'D', color=D_COL, alpha=0.5, fontsize=9, ha='center', va='center', zorder=2)

    # regression lines over the range of each party's positions
    for pts, fit, col in [(r_pts, r_fit, R_COL), (d_pts, d_fit, D_COL)]:
        xs = np.array([p[0] for p in pts])
        xx = np.array([xs.min(), xs.max()])
        ax.plot(xx, fit[0] + fit[1] * xx, color=col, lw=2.3, solid_capstyle='butt', zorder=3)

    ax.set_xticks(x_ticks)
    ax.set_xticklabels([minus(str(t)) for t in x_ticks])
    ax.set_yticks(yticks)
    ax.set_yticklabels([minus(yfmt.format(t)) for t in yticks])
    ax.xaxis.set_minor_locator(MultipleLocator(0.5))
    ax.yaxis.set_minor_locator(MultipleLocator(minor_y))

    ax.grid(which='major', color='#EBEBEB', lw=1.1, zorder=0)
    ax.grid(which='minor', color='#EBEBEB', lw=0.55, zorder=0)
    ax.set_axisbelow(True)
    ax.tick_params(which='minor', length=0)
    ax.tick_params(which='major', length=3.5, width=0.8, color='#333333',
                   labelsize=12, labelcolor='black', pad=3)
    for sp in ax.spines.values():
        sp.set_color('#333333')
        sp.set_linewidth(1.0)

    ax.set_xlabel('Campaign Platform Position', fontsize=15, labelpad=2)
    ax.set_ylabel(ylabel, fontsize=15, labelpad=6)


fig = plt.figure(figsize=(9.81, 5.57), dpi=100)
ax1 = fig.add_axes([67 / 981, 54 / 557, 420 / 981, 496 / 557])
ax2 = fig.add_axes([580.7 / 981, 54 / 557, 406 / 981, 496 / 557])

draw_panel(ax1, cf_r_pts + cf_r_core, cf_d_pts + cf_d_core, cf_r_fit, cf_d_fit, (-3.3, 3.3),
           cf_ticks, '{:d}', 'Recipient CF Score', 0.5)
draw_panel(ax2, dw_r_pts, dw_d_pts, dw_r_fit, dw_d_fit, (-1.1, 1.1), dw_ticks, '{:.1f}',
           'DW\u2212NOMINATE', 0.25)

ann = dict(fontsize=15.5, va='center', color='black', zorder=4)
ax1.text(-3.13, 2.5, cf_labels[0], ha='left', **ann)
ax1.text(3.2, -2.5, cf_labels[1], ha='right', **ann)
ax1.text(-2.97, -3.0, cf_labels[2], ha='left', **ann)
ax2.text(-3.15, 0.746, dw_labels[0], ha='left', **ann)
ax2.text(0.87, -0.497, dw_labels[1], ha='left', **ann)
ax2.text(-2.98, -1.0, dw_labels[2], ha='left', **ann)

fig.savefig('out.png', dpi=100)
